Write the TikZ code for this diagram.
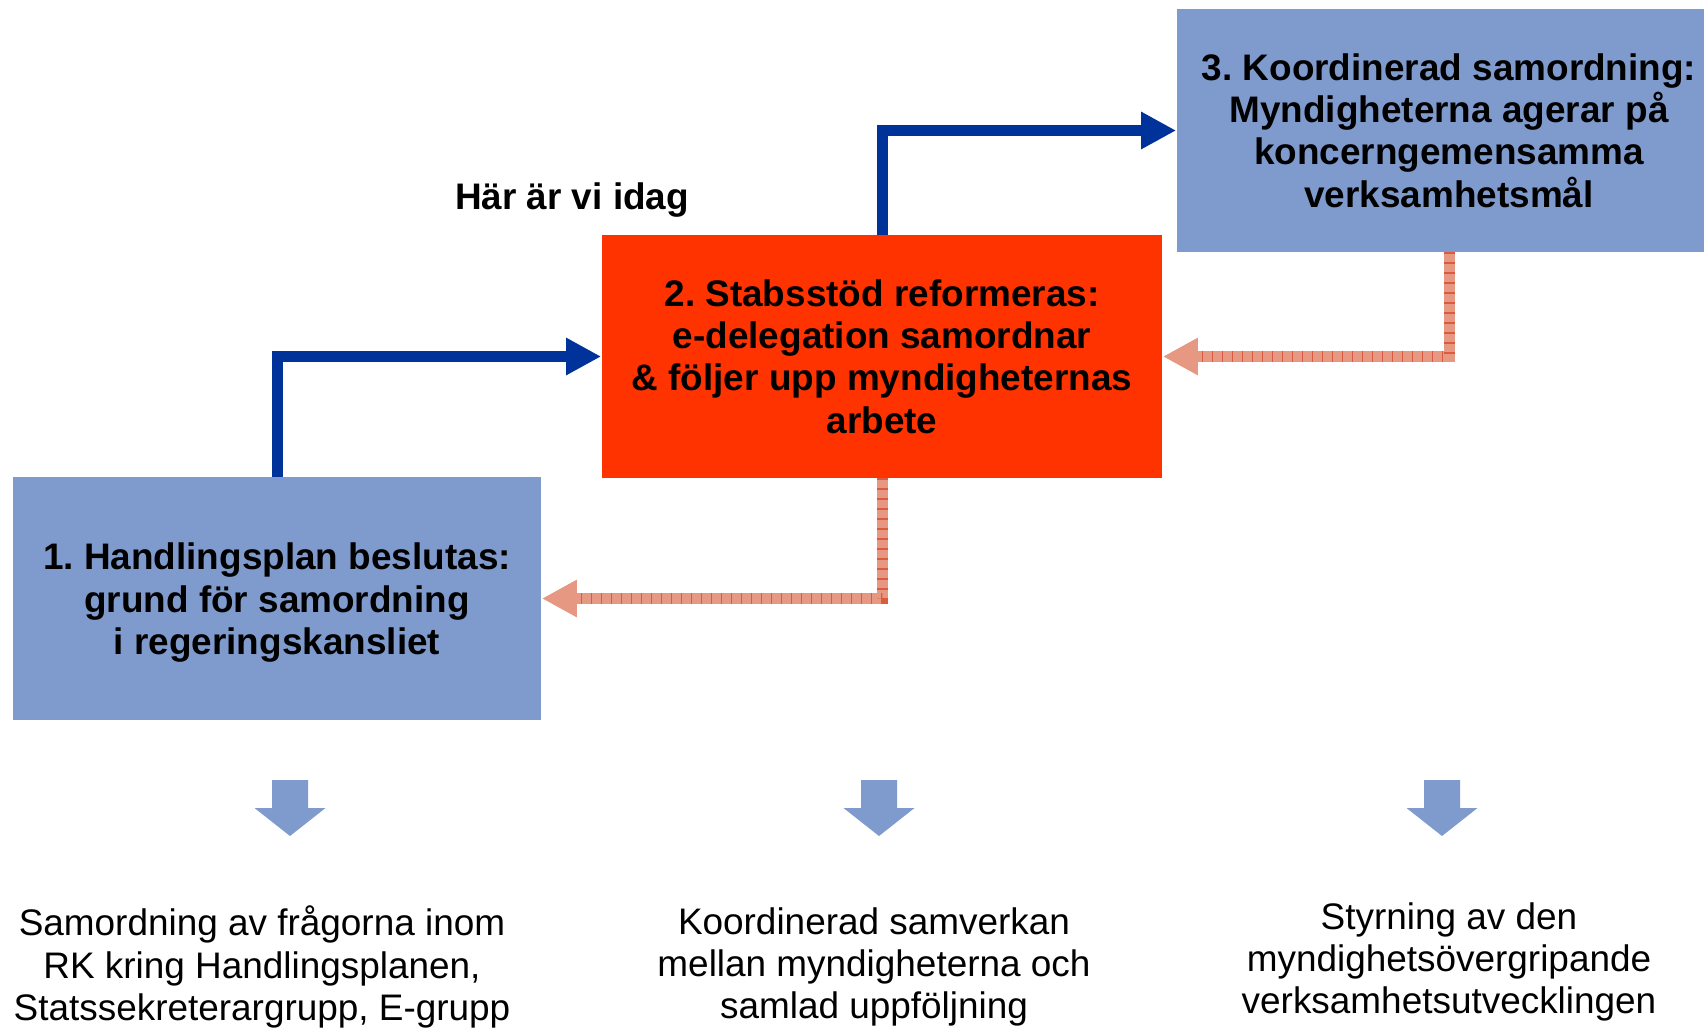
\documentclass[tikz,border=0pt]{standalone}
\usepackage{fontspec}
\setmainfont{Liberation Sans}
\frenchspacing
\usetikzlibrary{arrows.meta}
\definecolor{boxblue}{RGB}{127,155,206}
\definecolor{stabred}{RGB}{255,51,0}
\definecolor{linkblue}{RGB}{0,51,153}
\definecolor{backpink}{RGB}{231,152,130}
\definecolor{backgrid}{RGB}{218,92,60}
\tikzset{phase/.style = {fill=boxblue, minimum width=5.28cm, minimum height=2.42cm, inner sep=0pt, align=center, font=\fontsize{10.5}{12}\selectfont\bfseries}}
\tikzset{forward/.style = {draw=linkblue, line width=1.1mm, -{Triangle[width=3.5mm,length=3.5mm]}}}
\tikzset{feedback/.style = {draw=backpink, line width=1.1mm, -{Triangle[width=3.5mm,length=3.5mm]},
    postaction={draw=backgrid, -, line width=1.1mm, dash pattern=on 0.15mm off 0.85mm, shorten >=3.5mm}}}
\tikzset{result/.style = {align=center, font=\fontsize{10.5}{12}\selectfont}}

\begin{document}
\begin{tikzpicture}[x=0.01cm, y=-0.01cm]
		\useasboundingbox (0,0) rectangle (1704,1027);
		\node[phase] (plan) at (277,598.5) {\rule{0pt}{10pt}1. Handlingsplan beslutas:\\grund för samordning\\i regeringskansliet};
		\node[phase, fill=stabred, minimum width=5.6cm] (stab) at (882,356.5) {2. Stabsstöd reformeras:\\e-delegation samordnar\\\& följer upp myndigheternas\\arbete};
		% runs past the right edge of the page
		\node[phase, minimum width=5.44cm] (koord) at (1449,130.5) {3. Koordinerad samordning:\\Myndigheterna agerar på\\koncerngemensamma\\verksamhetsmål};
		\node[font=\fontsize{10.5}{12}\selectfont\bfseries] (idag) at (572,200) {Här är vi idag};
		\draw[forward] (plan.north) |- (stab.west);
		\draw[forward] (stab.north) |- (koord.west);
		\draw[feedback] (koord.south) |- (stab.east);
		\draw[feedback] (stab.south) |- (plan.east);
		\foreach \x in {290,879,1442}
			\fill[boxblue] (\x-18,780) -- (\x+18,780) -- (\x+18,808) -- (\x+35.5,808) -- (\x,836) -- (\x-35.5,808) -- (\x-18,808) -- cycle;
		\node[result] (rk) at (262,967) {Samordning av frågorna inom\\RK kring Handlingsplanen,\\Statssekreterargrupp, E-grupp};
		\node[result] (samverkan) at (874,967) {Koordinerad samverkan\\mellan myndigheterna och\\samlad uppföljning};
		\node[result] (styrning) at (1449,962) {Styrning av den\\myndighetsövergripande\\verksamhetsutvecklingen};
	\end{tikzpicture}
\end{document}
